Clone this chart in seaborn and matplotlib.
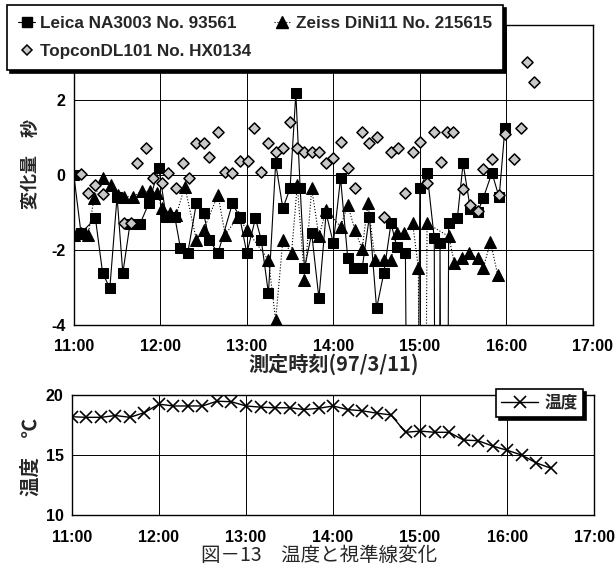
import numpy as np
import pandas as pd
import matplotlib
matplotlib.use("Agg")
import matplotlib.pyplot as plt
import seaborn as sns
from matplotlib.lines import Line2D

# ---------------- data ----------------
leica_time = ["11:00", "11:05", "11:15", "11:20", "11:25", "11:30", "11:34", "11:39", "11:46", "11:52",
              "11:59", "12:04", "12:10", "12:14", "12:19", "12:25", "12:30", "12:34", "12:40", "12:50",
              "12:55", "13:00", "13:06", "13:10", "13:15", "13:20", "13:25", "13:30", "13:34", "13:37",
              "13:40", "13:45", "13:50", "13:55", "14:00", "14:05", "14:10", "14:14", "14:20", "14:25",
              "14:30", "14:35", "14:40", "14:44", "14:50", "14:55", "15:00", "15:05", "15:10", "15:12",
              "15:14", "15:17", "15:20", "15:26", "15:30", "15:35", "15:40", "15:44", "15:50", "15:55",
              "15:59"]
leica_val = [0.0, -1.55, -1.16, -2.62, -3.02, -0.58, -2.62, -1.3, -1.3, -0.76,
             0.18, -1.11, -1.11, -1.96, -2.09, -0.76, -1.02, -1.73, -2.09, -0.76,
             -1.11, -2.09, -1.16, -1.73, -3.16, 0.31, -0.89, -0.36, 2.18, -0.36,
             -2.49, -1.56, -3.29, -1.02, -1.82, -0.09, -2.22, -2.49, -2.49, -1.11,
             -3.56, -2.62, -1.29, -1.91, -2.09, -30.0, -0.36, 0.06, -1.69, -30.0,
             -1.82, -30.0, -1.27, -1.16, 0.31, -0.9, -1.0, -0.62, 0.06, -0.6,
             1.24]

zeiss_time = ["11:00", "11:05", "11:10", "11:14", "11:20", "11:26", "11:31", "11:35", "11:41", "11:47",
              "11:53", "11:58", "12:01", "12:07", "12:11", "12:17", "12:25", "12:30", "12:40", "12:45",
              "12:54", "13:00", "13:15", "13:20", "13:25", "13:31", "13:35", "13:40", "13:45", "13:50",
              "13:55", "14:05", "14:10", "14:15", "14:20", "14:24", "14:29", "14:35", "14:40", "14:44",
              "14:49", "14:55", "14:59", "15:01", "15:05", "15:20", "15:24", "15:29", "15:34", "15:40",
              "15:44", "15:49", "15:54"]
zeiss_val = [-1.6, -1.56, -1.6, -0.62, -0.09, -0.27, -0.53, -0.58, -0.58, -0.44,
             -0.44, -0.49, -0.89, -1.02, -1.07, -0.31, -1.73, -1.47, -0.53, -1.6,
             -1.11, -1.47, -2.27, -3.88, -1.73, -2.09, -0.27, -2.8, -0.36, -1.64,
             -0.93, -1.38, -0.8, -1.47, -1.98, -0.76, -2.27, -2.27, -2.27, -1.56,
             -1.56, -1.29, -2.49, -30.0, -1.29, -1.64, -2.36, -2.22, -2.09, -2.22,
             -2.49, -1.78, -2.67]

topcon_time = ["11:05", "11:10", "11:15", "11:20", "11:35", "11:40", "11:44", "11:50", "11:55", "12:01",
               "12:05", "12:11", "12:16", "12:20", "12:25", "12:30", "12:34", "12:40", "12:45", "12:50",
               "12:55", "13:01", "13:05", "13:10", "13:15", "13:20", "13:25", "13:30", "13:35", "13:40",
               "13:45", "13:50", "13:55", "14:00", "14:05", "14:10", "14:15", "14:20", "14:25", "14:30",
               "14:35", "14:40", "14:45", "14:50", "14:55", "15:00", "15:05", "15:10", "15:15", "15:19",
               "15:23", "15:30", "15:35", "15:40", "15:44", "15:50", "15:55", "15:59", "16:05", "16:10",
               "16:14", "16:19"]
topcon_val = [0.03, -0.49, -0.27, -0.5, -1.29, -1.29, 0.31, 0.71, -0.09, -0.22,
              0.04, -0.36, 0.31, -0.09, 0.86, 0.86, 0.47, 1.14, 0.09, 0.06,
              0.36, 0.36, 1.26, 0.07, 0.86, 0.6, 0.71, 1.4, 0.71, 0.6,
              0.6, 0.6, 0.33, 0.44, 0.87, 0.18, -0.36, 1.14, 0.86, 1.0,
              -1.11, 0.6, 0.73, -0.47, 0.6, 0.87, -0.22, 1.14, 0.34, 1.14,
              1.14, -0.38, -0.81, -0.96, 0.16, 0.43, -0.54, 1.1, 0.43, 1.24,
              3.02, 2.47]

temp_time = ["11:00", "11:10", "11:20", "11:30", "11:40", "11:50", "12:00", "12:10", "12:20", "12:30",
             "12:40", "12:50", "13:00", "13:10", "13:20", "13:30", "13:40", "13:50", "14:00", "14:10",
             "14:20", "14:30", "14:40", "14:50", "15:00", "15:10", "15:20", "15:30", "15:40", "15:50",
             "16:00", "16:10", "16:20", "16:30"]
temp_val = [18.2, 18.15, 18.15, 18.3, 18.15, 18.55, 19.25, 19.1, 19.1, 19.1,
            19.5, 19.45, 19.1, 19.0, 18.95, 18.95, 18.8, 18.9, 19.1, 18.8,
            18.7, 18.5, 18.35, 16.9, 17.0, 16.9, 16.9, 16.25, 16.2, 15.75,
            15.4, 15.0, 14.35, 13.9]

hour_ticks = [11, 12, 13, 14, 15, 16, 17]
hour_labels = ["11:00", "12:00", "13:00", "14:00", "15:00", "16:00", "17:00"]

label_leica = "Leica NA3003 No. 93561"
label_zeiss = "Zeiss DiNi11 No. 215615"
label_topcon = "TopconDL101 No. HX0134"


def to_hours(ts):
    return np.array([int(t.split(":")[0]) + int(t.split(":")[1]) / 60.0 for t in ts])


df_leica = pd.DataFrame({"t": to_hours(leica_time), "v": leica_val})
df_zeiss = pd.DataFrame({"t": to_hours(zeiss_time), "v": zeiss_val})
df_topcon = pd.DataFrame({"t": to_hours(topcon_time), "v": topcon_val})
df_temp = pd.DataFrame({"t": to_hours(temp_time), "v": temp_val})

# ---------------- style ----------------
sns.set_theme(style="white")
LAT = ["Liberation Sans Narrow", "Liberation Sans", "DejaVu Sans"]
CJK = ["Noto Sans CJK JP", "DejaVu Sans"]
plt.rcParams["font.family"] = LAT
plt.rcParams["font.weight"] = "bold"

fig = plt.figure(figsize=(6.15, 5.67), dpi=100)
ax1 = fig.add_axes([0.120, 0.427, 0.844, 0.529])
ax2 = fig.add_axes([0.117, 0.092, 0.849, 0.211])

# ---------------- upper chart ----------------
sns.lineplot(data=df_leica, x="t", y="v", ax=ax1, color="black", linewidth=0.8,
             marker="s", markersize=7, markeredgecolor="black", markerfacecolor="black",
             sort=False, estimator=None, legend=False, zorder=3)
sns.lineplot(data=df_zeiss, x="t", y="v", ax=ax1, color="black", linewidth=0.8, linestyle=":",
             marker="^", markersize=8, markeredgecolor="black", markerfacecolor="black",
             sort=False, estimator=None, legend=False, zorder=3)
sns.scatterplot(data=df_topcon, x="t", y="v", ax=ax1, marker="D", s=32, color="#c8c8c8",
                edgecolor="black", linewidth=1.1, legend=False, zorder=4)

ax1.set_xlim(11, 17)
ax1.set_ylim(-4, 4)
ax1.set_xticks(hour_ticks)
ax1.set_xticklabels(hour_labels)
ax1.set_yticks([-4, -2, 0, 2])
ax1.set_yticklabels(["-4", "-2", "0", "2"])
ax1.grid(True, color="black", linewidth=0.7)
ax1.tick_params(axis="both", labelsize=11.5, length=0, colors="black")
ax1.tick_params(axis="x", pad=10)
ax1.tick_params(axis="y", pad=6)
for s in ax1.spines.values():
    s.set_color("black")
    s.set_linewidth(1.0)
ax1.set_xlabel("測定時刻(97/3/11)", fontsize=14.5, family=CJK, fontweight="bold", labelpad=0)
ax1.set_ylabel("変化量　秒", fontsize=13, family=CJK, fontweight="bold")
ax1.yaxis.set_label_coords(-0.066, 0.535)

h_leica = Line2D([], [], color="black", lw=0.8, marker="s", markersize=7)
h_zeiss = Line2D([], [], color="black", lw=0.8, ls=":", marker="^", markersize=8)
h_topcon = Line2D([], [], color="none", marker="D", markersize=5.5, markerfacecolor="#c8c8c8",
                  markeredgecolor="black", markeredgewidth=1.1)
leg1 = ax1.legend([h_leica, h_topcon, h_zeiss], [label_leica, label_topcon, label_zeiss],
                  ncol=2, loc="upper left", bbox_to_anchor=(7 / 615, 1 - 5 / 567),
                  bbox_transform=fig.transFigure, borderaxespad=0, frameon=True, fancybox=False,
                  edgecolor="black", framealpha=1, shadow={"color": "black", "alpha": 1},
                  handlelength=1.0, handletextpad=0.3, columnspacing=1.3,
                  borderpad=0.65, labelspacing=0.75, prop={"weight": "bold", "size": 12.3})
leg1.get_frame().set_linewidth(1.2)
leg1.set_zorder(10)

# ---------------- lower chart ----------------
sns.lineplot(data=df_temp, x="t", y="v", ax=ax2, color="black", linewidth=1.0,
             marker="x", markersize=8.5, markeredgewidth=1.2, markeredgecolor="black",
             sort=False, estimator=None, legend=False)
ax2.set_xlim(11, 17)
ax2.set_ylim(10, 20)
ax2.set_xticks(hour_ticks)
ax2.set_xticklabels(hour_labels)
ax2.set_yticks([10, 15, 20])
ax2.grid(True, color="black", linewidth=0.7)
ax2.tick_params(axis="both", labelsize=11.5, length=0, colors="black")
ax2.tick_params(axis="x", pad=11)
ax2.tick_params(axis="y", pad=6)
for s in ax2.spines.values():
    s.set_color("black")
    s.set_linewidth(1.0)
ax2.set_xlabel("")
ax2.set_ylabel("温度　℃", fontsize=14, family=CJK, fontweight="bold")
ax2.yaxis.set_label_coords(-0.06, 0.48)

h_temp = Line2D([], [], color="black", lw=1.0, marker="x", markersize=8.5, markeredgewidth=1.2)
leg2 = ax2.legend([h_temp], ["温度"], loc="upper right", bbox_to_anchor=(583 / 615, 1 - 389 / 567),
                  bbox_transform=fig.transFigure, borderaxespad=0, frameon=True, fancybox=False,
                  edgecolor="black", framealpha=1, shadow={"color": "black", "alpha": 1},
                  handlelength=2.2, handletextpad=0.4, borderpad=0.3,
                  prop={"family": CJK, "weight": "bold", "size": 12})
leg2.get_frame().set_linewidth(1.2)

fig.text(0.519, 0.021, "図－13　温度と視準線変化", ha="center", va="center", fontsize=14,
         family=CJK, fontweight="normal")

fig.savefig("out.png", dpi=100)
